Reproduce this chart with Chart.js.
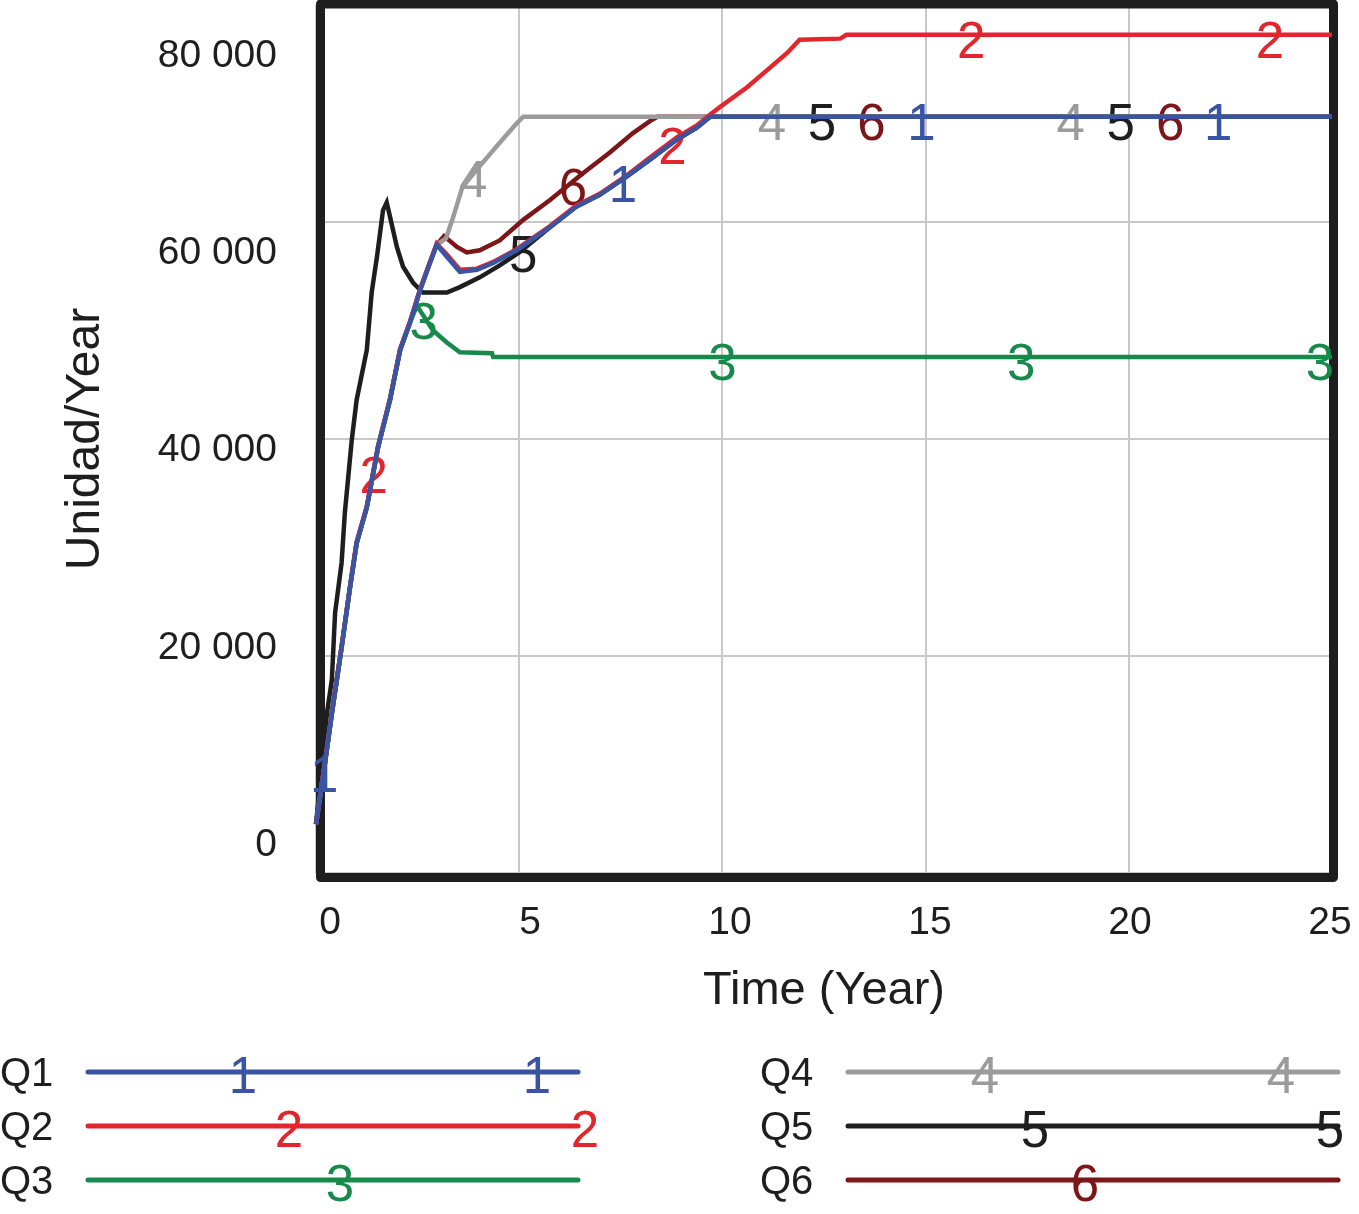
<!DOCTYPE html>
<html>
<head>
<meta charset="utf-8">
<script src="https://cdn.jsdelivr.net/npm/chart.js@4.4.1/dist/chart.umd.min.js"></script>
<style>
  html, body { margin: 0; padding: 0; background: #fff; }
  #wrap { width: 1359px; height: 1214px; position: relative; }
</style>
</head>
<body>
<div id="wrap"><canvas id="grafico"></canvas></div>
<script>
// series (tiempo en años, valor en Unidad/Year)
const q1T = [0, 0.22, 0.39, 0.63, 0.84, 1.0, 1.25, 1.53, 1.82, 2.07, 2.31, 2.56, 2.8, 2.97, 3.22, 3.54, 3.96, 4.35, 4.94, 5.75, 6.4, 6.98, 7.65, 8.2, 8.88, 9.37, 9.7, 25];
const q1V = [4500, 10100, 14700, 20800, 26400, 30400, 33700, 39300, 43600, 48200, 50700, 53700, 56200, 57900, 56800, 55400, 55600, 56200, 57400, 59500, 61400, 62500, 64200, 65700, 67600, 68700, 69700, 69700];

const q2T = [0, 0.22, 0.39, 0.63, 0.84, 1.0, 1.25, 1.53, 1.82, 2.07, 2.31, 2.56, 2.8, 2.97, 3.22, 3.54, 3.96, 4.35, 4.94, 5.75, 6.4, 6.98, 7.65, 8.2, 8.88, 9.37, 9.7, 9.94, 10.6, 11.1, 11.6, 11.9, 12.9, 13.05, 25];
const q2V = [4500, 10200, 14800, 20900, 26500, 30500, 33800, 39400, 43700, 48300, 50800, 53800, 56300, 58000, 57000, 55600, 55700, 56300, 57500, 59600, 61500, 62600, 64300, 65900, 67800, 68900, 69900, 70600, 72400, 74000, 75600, 76800, 76900, 77250, 77250];

const q3T = [0, 0.22, 0.39, 0.63, 0.84, 1.0, 1.25, 1.53, 1.82, 2.07, 2.31, 2.48, 2.88, 3.22, 3.54, 4.33, 4.36, 25];
const q3V = [4500, 10100, 14700, 20800, 26400, 30400, 33700, 39300, 43600, 48200, 50700, 52300, 50000, 48900, 48000, 47900, 47560, 47560];

const q4T = [0, 0.22, 0.39, 0.63, 0.84, 1.0, 1.25, 1.53, 1.82, 2.07, 2.31, 2.56, 2.8, 2.97, 3.2, 3.38, 3.6, 3.95, 4.36, 4.52, 4.94, 5.1, 25];
const q4V = [4500, 10100, 14700, 20800, 26400, 30400, 33700, 39300, 43600, 48200, 50700, 53700, 56200, 57900, 58500, 60500, 63200, 64800, 66600, 67300, 69100, 69700, 69700];

const q5T = [0, 0.27, 0.39, 0.47, 0.63, 0.71, 0.88, 1.0, 1.25, 1.37, 1.5, 1.65, 1.74, 1.82, 1.99, 2.14, 2.39, 2.63, 3.22, 3.54, 4.03, 4.52, 5.0, 5.75, 6.4, 6.98, 7.65, 8.2, 8.88, 9.37, 9.7, 25];
const q5V = [4500, 14750, 17800, 24000, 28600, 33200, 39900, 43600, 48200, 53500, 56800, 61100, 61800, 60500, 57700, 55900, 54400, 53500, 53500, 54000, 54900, 56000, 57200, 59500, 61400, 62500, 64200, 65700, 67600, 68700, 69700, 69700];

const q6T = [0, 0.22, 0.39, 0.63, 0.84, 1.0, 1.25, 1.53, 1.82, 2.07, 2.31, 2.56, 2.8, 2.97, 3.15, 3.47, 3.71, 4.03, 4.52, 5.1, 5.75, 6.57, 7.23, 7.8, 8.26, 8.4, 25];
const q6V = [4500, 10100, 14700, 20800, 26400, 30400, 33700, 39300, 43600, 48200, 50700, 53700, 56200, 57900, 58700, 57700, 57200, 57400, 58300, 60200, 62000, 64500, 66400, 68200, 69400, 69700, 69700];

// donde van los numeritos de cada serie (en años)
const marcasQ1 = [0.2, 7.55, 14.9, 22.2];
const marcasQ2 = [1.42, 8.77, 16.12, 23.47];
const marcasQ3 = [2.65, 10.0, 17.35, 24.7];
const marcasQ4 = [3.87, 11.22, 18.57];
const marcasQ5 = [5.1, 12.45, 19.8];
const marcasQ6 = [6.32, 13.67, 21.02];

const nombres = ['Q1', 'Q2', 'Q3', 'Q4', 'Q5', 'Q6'];
const xTicks = [0, 5, 10, 15, 20, 25];
const yTicks = [0, 20000, 40000, 60000, 80000];

const colores = ['#3a54a4', '#e1262d', '#178a4b', '#9b9b9b', '#1e1e1e', '#7c1619'];
const fuente = "'Liberation Sans', Arial, Helvetica, sans-serif";
const tinta = '#1e1e1e';

const series = [
  { t: q1T, v: q1V, marcas: marcasQ1 },
  { t: q2T, v: q2V, marcas: marcasQ2 },
  { t: q3T, v: q3V, marcas: marcasQ3 },
  { t: q4T, v: q4V, marcas: marcasQ4 },
  { t: q5T, v: q5V, marcas: marcasQ5 },
  { t: q6T, v: q6V, marcas: marcasQ6 }
];

// valor de la serie en un tiempo t (para colocar el numerito sobre la linea)
function valorEn(ts, vs, t) {
  for (let i = 1; i < ts.length; i++) {
    if (t <= ts[i]) {
      const f = (t - ts[i - 1]) / (ts[i] - ts[i - 1]);
      return vs[i - 1] + f * (vs[i] - vs[i - 1]);
    }
  }
  return vs[vs.length - 1];
}

function conEspacios(v) {
  return String(v).replace(/\B(?=(\d{3})+(?!\d))/g, ' ');
}

// marco negro grueso alrededor del area del grafico
const marcoPlugin = {
  id: 'marco',
  beforeDatasetsDraw(chart) {
    const a = chart.chartArea, ctx = chart.ctx;
    ctx.save();
    ctx.strokeStyle = tinta;
    ctx.lineWidth = 9;
    ctx.lineJoin = 'round';
    ctx.strokeRect(a.left + 4.5, a.top - 1, a.width - 3, a.height + 5.5);
    ctx.restore();
  }
};

// numeros sobre cada linea, dibujados justo despues de su linea
const numerosPlugin = {
  id: 'numeros',
  afterDatasetDraw(chart, args) {
    const i = args.index;
    const s = series[i];
    const ctx = chart.ctx;
    const sx = chart.scales.x, sy = chart.scales.y;
    const tam = 51;
    ctx.save();
    ctx.font = tam + 'px ' + fuente;
    ctx.fillStyle = colores[i];
    ctx.textAlign = 'center';
    ctx.textBaseline = 'alphabetic';
    s.marcas.forEach(t => {
      const x = sx.getPixelForValue(t);
      const y = sy.getPixelForValue(valorEn(s.t, s.v, t));
      ctx.fillText(String(i + 1), x, y + 5 + tam * 0.358);
    });
    ctx.restore();
  }
};

// leyenda estilo Vensim abajo
const leyendaPlugin = {
  id: 'leyendaVensim',
  afterDraw(chart) {
    const ctx = chart.ctx;
    const filas = [1072, 1126, 1180];
    const textoX = [0, 760];
    const lineaX = [[88, 578], [848, 1338]];
    const numX = [[243, 537], [289, 585], [340], [985, 1281], [1035, 1330], [1085]];
    ctx.save();
    chart.data.datasets.forEach((ds, i) => {
      const col = i < 3 ? 0 : 1;
      const y = filas[i % 3];
      ctx.font = '40px ' + fuente;
      ctx.fillStyle = tinta;
      ctx.textAlign = 'left';
      ctx.textBaseline = 'alphabetic';
      ctx.fillText(ds.label, textoX[col], y + 40 * 0.358);
      ctx.strokeStyle = ds.borderColor;
      ctx.lineWidth = 5;
      ctx.lineCap = 'round';
      ctx.beginPath();
      ctx.moveTo(lineaX[col][0], y);
      ctx.lineTo(lineaX[col][1], y);
      ctx.stroke();
      ctx.font = '51px ' + fuente;
      ctx.fillStyle = ds.borderColor;
      ctx.textAlign = 'center';
      numX[i].forEach(x => ctx.fillText(String(i + 1), x, y + 3 + 51 * 0.358));
    });
    ctx.restore();
  }
};

const canvas = document.getElementById('grafico');
const ctx = canvas.getContext('2d');

new Chart(ctx, {
  type: 'line',
  data: {
    datasets: series.map((s, i) => ({
      label: nombres[i],
      data: s.t.map((t, k) => ({ x: t, y: s.v[k] })),
      borderColor: colores[i],
      backgroundColor: colores[i],
      borderWidth: 4.5,
      pointRadius: 0,
      tension: 0,
      fill: false,
      clip: 6
    }))
  },
  options: {
    responsive: true,
    maintainAspectRatio: false,
    animation: false,
    events: [],
    layout: { padding: { left: 0, right: 27, top: 5, bottom: 181 } },
    plugins: {
      legend: { display: false },
      tooltip: { enabled: false }
    },
    scales: {
      x: {
        type: 'linear', position: 'bottom', min: 0, max: 25,
        ticks: { display: false, stepSize: 5 },
        grid: { color: '#c8c8c8', lineWidth: 2, drawTicks: false },
        border: { display: false },
        afterFit(s) { s.height = 0; s.paddingLeft = 0; s.paddingRight = 0; }
      },
      xl: {
        type: 'linear', position: 'bottom', min: -0.35, max: 25.05, weight: 1,
        afterBuildTicks(s) { s.ticks = xTicks.map(v => ({ value: v })); },
        ticks: {
          padding: 19, autoSkip: false, maxRotation: 0,
          color: tinta, font: { family: fuente, size: 39 },
          callback: v => String(v)
        },
        grid: { display: false },
        border: { display: false },
        title: {
          display: true, text: 'Time (Year)', color: tinta,
          font: { family: fuente, size: 47 },
          padding: { top: 0, bottom: 14 }
        },
        afterFit(s) { s.height = 160; s.paddingLeft = 0; s.paddingRight = 0; }
      },
      y: {
        type: 'linear', position: 'left', min: 0, max: 80000,
        ticks: { display: false, stepSize: 20000 },
        grid: { color: '#c8c8c8', lineWidth: 2, drawTicks: false },
        border: { display: false },
        afterFit(s) { s.width = 0; s.paddingTop = 0; s.paddingBottom = 0; }
      },
      yl: {
        type: 'linear', position: 'left', min: -2839, max: 85171, weight: 1,
        afterBuildTicks(s) { s.ticks = yTicks.map(v => ({ value: v })); },
        ticks: {
          padding: 31, autoSkip: false,
          color: tinta, font: { family: fuente, size: 39 },
          callback: v => conEspacios(v)
        },
        grid: { display: false },
        border: { display: false },
        title: {
          display: true, text: 'Unidad/Year', color: tinta,
          font: { family: fuente, size: 48 },
          padding: { top: 57, bottom: 0 }
        },
        afterFit(s) { s.width = 316; s.paddingTop = 0; s.paddingBottom = 0; }
      }
    }
  },
  plugins: [marcoPlugin, numerosPlugin, leyendaPlugin]
});
</script>
</body>
</html>
